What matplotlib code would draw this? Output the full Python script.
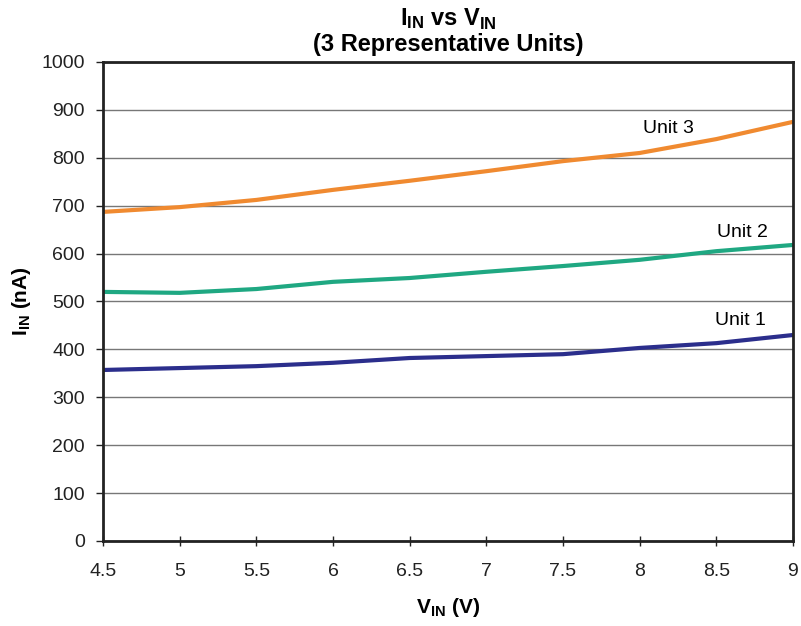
import matplotlib
matplotlib.use('Agg')
import matplotlib.pyplot as plt

# ── data ────────────────────────────────────────────────────
vin = [4.5, 5.0, 5.5, 6.0, 6.5, 7.0, 7.5, 8.0, 8.5, 9.0]
unit1 = [357, 361, 365, 372, 382, 386, 390, 403, 413, 430]
unit2 = [520, 518, 526, 541, 549, 562, 574, 587, 605, 618]
unit3 = [687, 697, 712, 733, 752, 772, 793, 810, 839, 875]
labels = ['Unit 1', 'Unit 2', 'Unit 3']
colors = ['#2B2E8C', '#1FA882', '#F08A30']
xtick_labels = ['4.5', '5', '5.5', '6', '6.5', '7', '7.5', '8', '8.5', '9']

plt.rcParams['font.family'] = ['Liberation Sans', 'DejaVu Sans']
plt.rcParams['mathtext.fontset'] = 'custom'
plt.rcParams['mathtext.rm'] = 'Liberation Sans'
plt.rcParams['mathtext.bf'] = 'Liberation Sans:bold'

fig = plt.figure(figsize=(8.01, 6.26), dpi=100)
ax = fig.add_axes([0.1286, 0.1358, 0.8614, 0.7652])

for y, c in zip([unit1, unit2, unit3], colors):
    ax.plot(vin, y, color=c, lw=3, solid_capstyle='butt')

# curve labels
ax.text(8.66, 461, labels[0], fontsize=14, ha='center', va='center')
ax.text(8.67, 645, labels[1], fontsize=14, ha='center', va='center')
ax.text(8.19, 862, labels[2], fontsize=14, ha='center', va='center')

ax.set_xlim(4.5, 9)
ax.set_ylim(0, 1000)
ax.set_xticks([float(t) for t in xtick_labels])
ax.set_xticklabels(xtick_labels)
ax.set_yticks(range(0, 1001, 100))
ax.yaxis.grid(True, color='#777777', lw=1)
ax.set_axisbelow(True)
ax.tick_params(axis='x', direction='inout', length=7, width=1, pad=12,
               labelsize=14, colors='#222222')
ax.tick_params(axis='y', direction='out', length=5, width=1, pad=8,
               labelsize=14, colors='#222222')
for s in ax.spines.values():
    s.set_linewidth(2)
    s.set_color('#222222')

ax.set_title(r'$\mathbf{I_{IN}}$ vs V$_{\mathbf{IN}}$' + '\n(3 Representative Units)',
             fontsize=17, fontweight='bold', pad=8, linespacing=1.05)
ax.set_xlabel(r'V$_{\mathbf{IN}}$ (V)', fontsize=15, fontweight='bold', labelpad=12)
ax.set_ylabel(r'I$_{\mathbf{IN}}$ (nA)', fontsize=15, fontweight='bold', labelpad=6)

fig.savefig('out.png', dpi=100)
